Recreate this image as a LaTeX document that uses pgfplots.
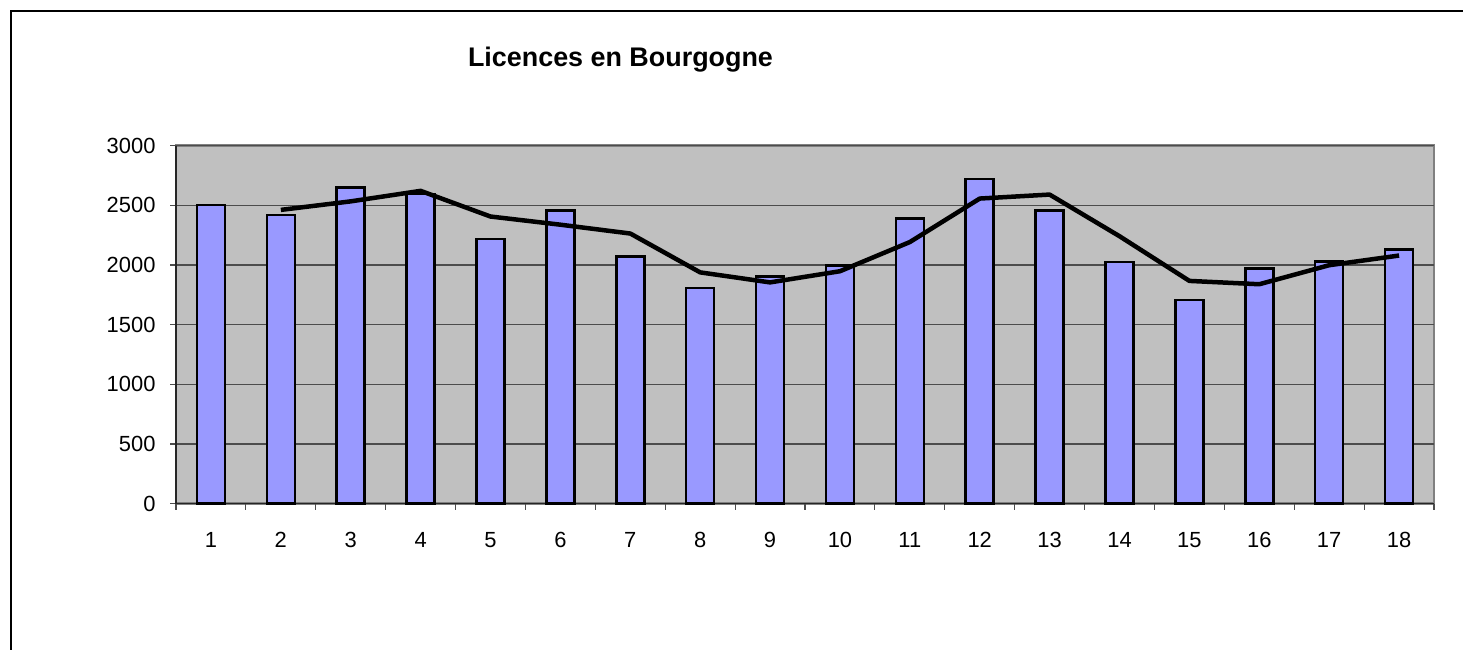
\documentclass[border=0pt]{standalone}
\usepackage{fontspec}
\setmainfont{Liberation Sans}
\usepackage{pgfplots}
\pgfplotsset{compat=1.18}
\definecolor{barfill}{HTML}{9999FF}
\definecolor{plotbg}{HTML}{C0C0C0}
\begin{document}
\begin{tikzpicture}
\path[use as bounding box] (0,0) rectangle (1463bp,650bp);
\draw[black, line width=2bp] (11bp,0) -- (11bp,639bp) -- (1463bp,639bp);
\node[anchor=base, font=\fontsize{27}{32}\selectfont\bfseries, inner sep=0pt] at (620.5bp,583.3bp) {Licences en Bourgogne};
\begin{axis}[
  at={(176bp,146.3bp)}, anchor=south west,
  width=1258bp, height=358bp, scale only axis,
  xmin=0.5, xmax=18.5, ymin=0, ymax=3000,
  axis x line=bottom, axis y line=left,
  axis line style={-, line width=1.5bp, black!85},
  axis background/.style={fill=plotbg, draw=black!50, line width=2.5bp},
  ymajorgrids, grid style={black!70, line width=1.2bp},
  ytick={0,500,...,3000},
  xtick={0.5,1.5,...,18.5},
  x tick label as interval,
  xticklabels={1,2,3,4,5,6,7,8,9,10,11,12,13,14,15,16,17,18},
  tick align=outside,
  major tick length=6bp,
  tick style={black!70, line width=1.2bp},
  ticklabel style={font=\fontsize{22}{26}\selectfont},
  xticklabel style={yshift=-19bp},
  yticklabel style={xshift=-11bp},
  /pgf/number format/assume math mode=true,
  /pgf/number format/1000 sep={},
  clip=false,
]
\addplot[ybar, bar width=28bp, fill=barfill, draw=black, line width=2.5bp] coordinates {
(1,2505) (2,2419) (3,2648) (4,2595) (5,2218) (6,2458) (7,2070) (8,1807) (9,1902)
(10,1994) (11,2391) (12,2723) (13,2458) (14,2025) (15,1709) (16,1969) (17,2028) (18,2131)
};
\addplot[black, line width=4.5bp, mark=none, line join=round] coordinates {
(2,2462) (3,2533.5) (4,2621.5) (5,2406.5) (6,2338) (7,2264) (8,1938.5) (9,1854.5)
(10,1948) (11,2192.5) (12,2557) (13,2590.5) (14,2241.5) (15,1867) (16,1839) (17,1998.5) (18,2079.5)
};
\end{axis}
\end{tikzpicture}
\end{document}
